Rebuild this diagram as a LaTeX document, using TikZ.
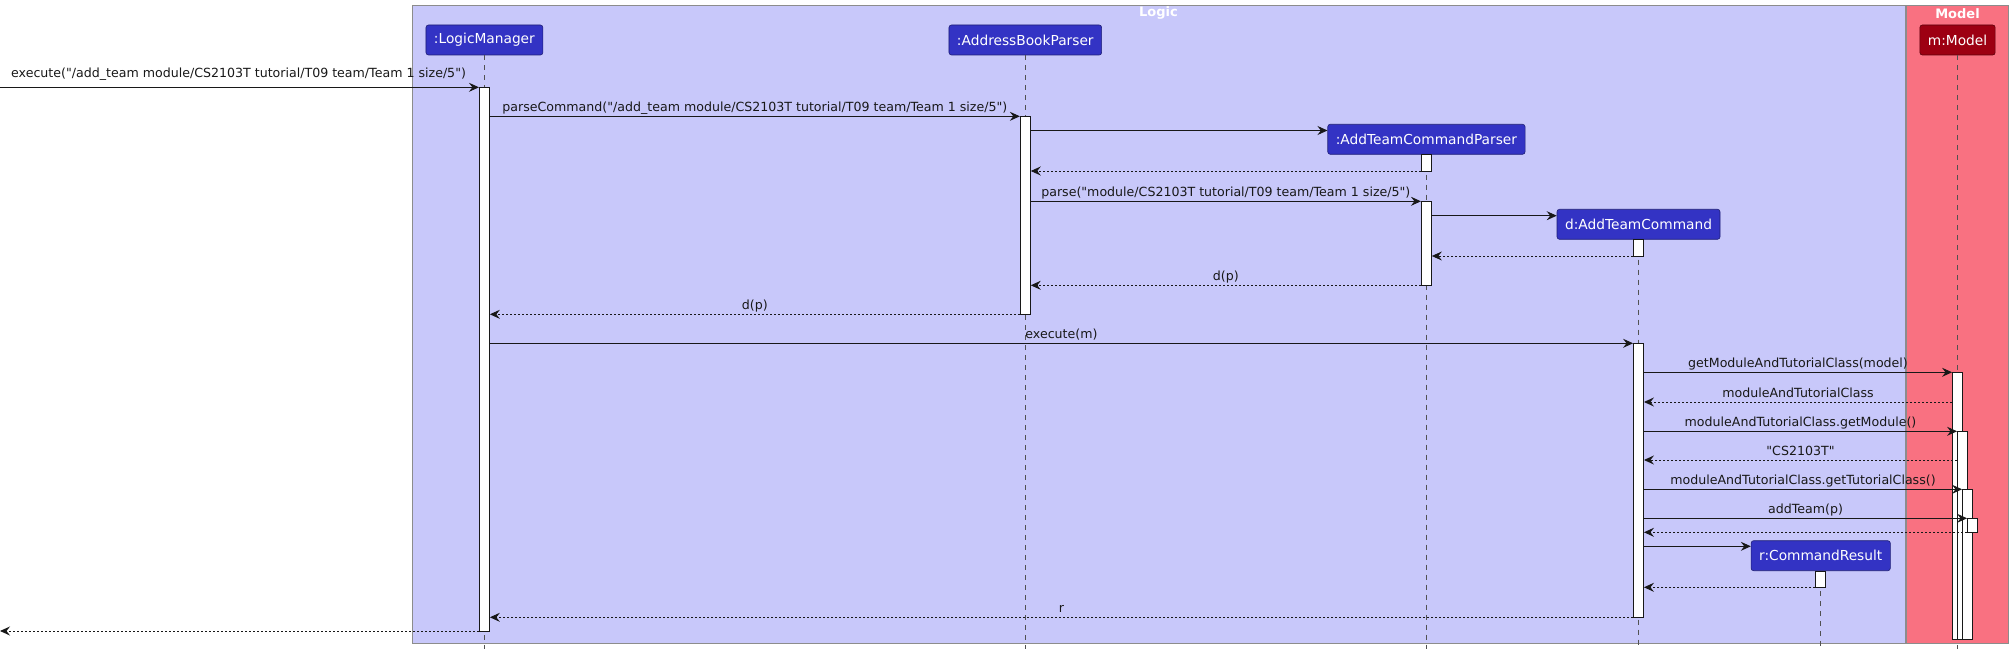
\documentclass[tikz,border=0pt]{standalone}
\usepackage{fontspec}
\setmainfont{DejaVu Sans}[Ligatures=TeXOff]
\usetikzlibrary{arrows.meta}
\definecolor{logicBlue}{HTML}{3333C4}
\definecolor{logicPale}{HTML}{C8C8FA}
\definecolor{modelRed}{HTML}{9D0012}
\definecolor{modelPale}{HTML}{F97181}
\definecolor{lineDark}{HTML}{181818}
\newcommand{\msgfont}{\fontsize{12.6}{15}\selectfont}
\newcommand{\boxfont}{\fontsize{13.75}{16}\selectfont}
\tikzstyle{logic_node} = [draw=logicBlue!60!black, fill=logicBlue, rounded corners=2.5pt, text=white, minimum height=30pt, inner xsep=8pt, line width=0.6pt, font=\boxfont]
\tikzstyle{model_node} = [logic_node, draw=modelRed!60!black, fill=modelRed]
\tikzstyle{act_bar} = [draw=lineDark, fill=white, line width=0.9pt, minimum width=10pt, inner sep=0pt, anchor=north]
\tikzstyle{life_line} = [draw=lineDark!75, line width=0.6pt, dash pattern=on 5pt off 5pt]
\tikzstyle{frame_box} = [draw=black!45, line width=1pt]
\tikzstyle{frame_title} = [text=white, font=\fontsize{13}{15}\selectfont\bfseries, inner sep=0pt]
\tikzstyle{call} = [draw=lineDark, line width=0.9pt, -{Stealth[length=10pt,width=9pt,inset=3.5pt]}]
\tikzstyle{ret} = [call, dash pattern=on 2pt off 2pt]
\tikzstyle{lbl} = [anchor=base, inner sep=0pt, yshift=4.7pt, text=lineDark, font=\msgfont]

\begin{document}
\begin{tikzpicture}[x=1pt, y=-1pt]
	\useasboundingbox (0,0) rectangle (2013,655);
	% frames
	\draw[frame_box, fill=logicPale] (412,6) rectangle (1905,643.3);
	\draw[frame_box, fill=modelPale] (1906.3,6) rectangle (2008.7,643.3);
	\node[frame_title] (logic) at (1158.5,13.3) {Logic};
	\node[frame_title] (model) at (1957.5,13.3) {Model};
	
	% participants
	\node[logic_node] (lm) at (484.4,40) {:LogicManager};
	\node[logic_node] (abp) at (1025.3,40) {:AddressBookParser};
	\node[logic_node] (acp) at (1426.4,139.3) {:AddTeamCommandParser};
	\node[logic_node] (atc) at (1638.5,224.3) {d:AddTeamCommand};
	\node[model_node] (m) at (1957.5,40) {m:Model};
	\node[logic_node] (cr) at (1820.7,555.7) {r:CommandResult};
	
	% lifelines
	\draw[life_line] (lm.south) -- (lm.south |- 0,649);
	\draw[life_line] (abp.south) -- (abp.south |- 0,649);
	\draw[life_line] (acp.south) -- (acp.south |- 0,649);
	\draw[life_line] (atc.south) -- (atc.south |- 0,649);
	\draw[life_line] (m.south) -- (m.south |- 0,649);
	\draw[life_line] (cr.south) -- (cr.south |- 0,649);
	
	% activations
	\node[act_bar, minimum height=543.7pt] (lmA) at (484.4,87.3) {};
	\node[act_bar, minimum height=198pt] (abpA) at (1025.3,116.3) {};
	\node[act_bar, minimum height=16.7pt] (acpA1) at (1426.4,154.3) {};
	\node[act_bar, minimum height=84pt] (acpA2) at (1426.4,201.3) {};
	\node[act_bar, minimum height=16.7pt] (atcA1) at (1638.5,239.3) {};
	\node[act_bar, minimum height=274pt] (atcA2) at (1638.5,343.3) {};
	\node[act_bar, minimum height=267pt] (mA1) at (1957.5,372.3) {};
	\node[act_bar, minimum height=208pt] (mA2) at (1962.5,431.3) {};
	\node[act_bar, minimum height=150pt] (mA3) at (1967.5,489.3) {};
	\node[act_bar, minimum height=14pt] (mA4) at (1972.5,518.3) {};
	\node[act_bar, minimum height=16.6pt] (crA) at (1820.7,570.7) {};
	
	\coordinate (caller_in) at (0,87.3);
	\coordinate (caller_out) at (0,631);
	
	% draw messages
	\draw[call] (caller_in) -- (lmA.west |- 0,87.3);
	\node[lbl, anchor=base west] (l1) at (11,82.6) {execute("/add\_team module/CS2103T tutorial/T09 team/Team 1 size/5")};
	\draw[call] (lmA.east |- 0,116.3) -- (abpA.west |- 0,116.3) node[lbl, midway] (l2) {parseCommand("/add\_team module/CS2103T tutorial/T09 team/Team 1 size/5")};
	\draw[call] (abpA.east |- 0,130.5) -- (acp.west |- 0,130.5);
	\draw[ret] (acpA1.west |- 0,171) -- (abpA.east |- 0,171);
	\draw[call] (abpA.east |- 0,201.3) -- (acpA2.west |- 0,201.3) node[lbl, midway] (l3) {parse("module/CS2103T tutorial/T09 team/Team 1 size/5")};
	\draw[call] (acpA2.east |- 0,215.7) -- (atc.west |- 0,215.7);
	\draw[ret] (atcA1.west |- 0,256) -- (acpA2.east |- 0,256);
	\draw[ret] (acpA2.west |- 0,285.3) -- (abpA.east |- 0,285.3) node[lbl, midway] (l4) {d(p)};
	\draw[ret] (abpA.west |- 0,314.3) -- (lmA.east |- 0,314.3) node[lbl, midway] (l5) {d(p)};
	\draw[call] (lmA.east |- 0,343.3) -- (atcA2.west |- 0,343.3) node[lbl, midway] (l6) {execute(m)};
	\draw[call] (atcA2.east |- 0,372.3) -- (mA1.west |- 0,372.3) node[lbl, midway] (l7) {getModuleAndTutorialClass(model)};
	\draw[ret] (mA1.west |- 0,402) -- (atcA2.east |- 0,402) node[lbl, midway] (l8) {moduleAndTutorialClass};
	\draw[call] (atcA2.east |- 0,431.3) -- (mA2.west |- 0,431.3) node[lbl, midway] (l9) {moduleAndTutorialClass.getModule()};
	\draw[ret] (mA2.west |- 0,460) -- (atcA2.east |- 0,460) node[lbl, midway] (l10) {"CS2103T"};
	\draw[call] (atcA2.east |- 0,489.3) -- (mA3.west |- 0,489.3) node[lbl, midway] (l11) {moduleAndTutorialClass.getTutorialClass()};
	\draw[call] (atcA2.east |- 0,518.3) -- (mA4.west |- 0,518.3) node[lbl, midway] (l12) {addTeam(p)};
	\draw[ret] (mA4.west |- 0,532.3) -- (atcA2.east |- 0,532.3);
	\draw[call] (atcA2.east |- 0,546.3) -- (cr.west |- 0,546.3);
	\draw[ret] (crA.west |- 0,587.3) -- (atcA2.east |- 0,587.3);
	\draw[ret] (atcA2.west |- 0,617.3) -- (lmA.east |- 0,617.3) node[lbl, midway] (l13) {r};
	\draw[ret] (lmA.west |- 0,631) -- (caller_out);
\end{tikzpicture}
\end{document}
